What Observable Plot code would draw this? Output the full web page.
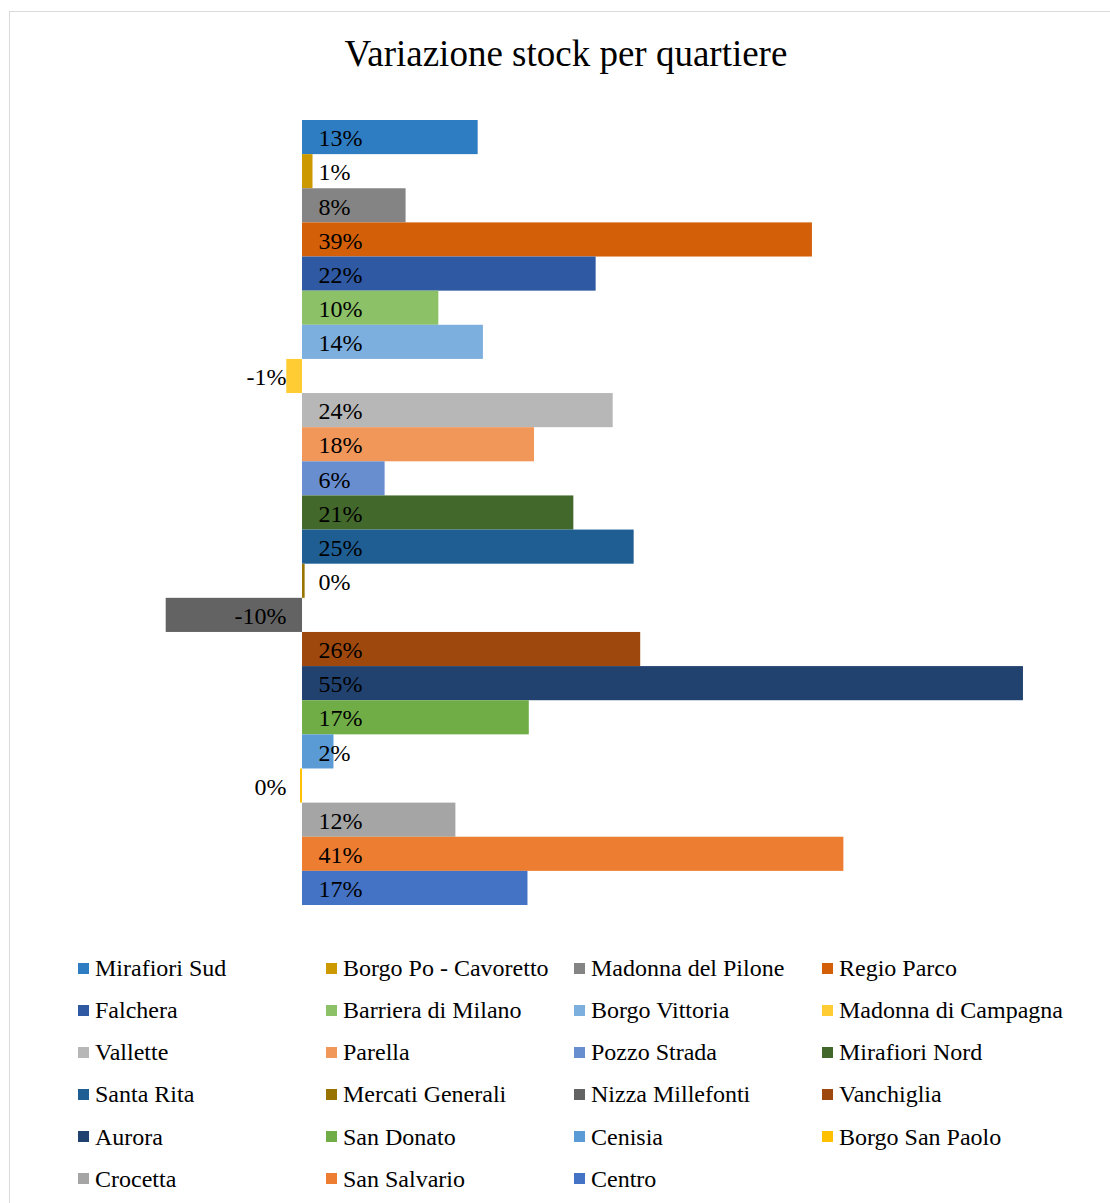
<!DOCTYPE html>
<html>
<head>
<meta charset="utf-8">
<script src="https://cdn.jsdelivr.net/npm/d3@7"></script>
<script src="https://cdn.jsdelivr.net/npm/@observablehq/plot@0.6"></script>
<style>
  html, body { margin: 0; padding: 0; overflow: hidden; background: #fff; }
  body { width: 1110px; height: 1203px; position: relative; font-family: "Liberation Serif", "Times New Roman", serif; }
  #frame { position: absolute; left: 9px; top: 11px; width: 1200px; height: 1300px; border: 1px solid #d9d9d9; box-sizing: border-box; }
  #title { position: absolute; left: 0; width: 1132px; top: 35px; text-align: center; font-size: 37px; line-height: 37px; color: #000; white-space: nowrap; }
  #chart { position: absolute; left: 0; top: 100px; }
  #legend { position: absolute; left: 78px; top: 956px; display: grid; grid-template-columns: repeat(4, 248px); grid-auto-rows: 42.13px; }
  .item { display: flex; align-items: flex-start; height: 24px; font-size: 24px; line-height: 24px; color: #000; white-space: nowrap; }
  .sw { width: 11px; height: 11px; margin-top: 6.5px; margin-right: 6px; flex: none; }
</style>
</head>
<body>
<div id="frame"></div>
<div id="title">Variazione stock per quartiere</div>
<div id="chart"></div>
<div id="legend"></div>
<script>
const quartieri = [
  "Mirafiori Sud", "Borgo Po - Cavoretto", "Madonna del Pilone", "Regio Parco",
  "Falchera", "Barriera di Milano", "Borgo Vittoria", "Madonna di Campagna",
  "Vallette", "Parella", "Pozzo Strada", "Mirafiori Nord",
  "Santa Rita", "Mercati Generali", "Nizza Millefonti", "Vanchiglia",
  "Aurora", "San Donato", "Cenisia", "Borgo San Paolo",
  "Crocetta", "San Salvario", "Centro"
];
const variazioni = [
  13.4, 0.8, 7.9, 38.9,
  22.4, 10.4, 13.8, -1.2,
  23.7, 17.7, 6.3, 20.7,
  25.3, 0.2, -10.4, 25.8,
  55.0, 17.3, 2.4, -0.15,
  11.7, 41.3, 17.2
];
const colori = [
  "#2E7DC2", "#CC9A00", "#848484", "#D35F08",
  "#2F59A3", "#8CC168", "#7CAFDD", "#FFCD33",
  "#B7B7B7", "#F1975A", "#698ED0", "#43682B",
  "#1F5E92", "#997300", "#636363", "#9E480E",
  "#21426F", "#70AD47", "#5B9BD5", "#FFC000",
  "#A5A5A5", "#ED7D31", "#4472C4"
];

const data = quartieri.map((name, i) => ({name, value: variazioni[i]}));
const fmt = v => `${Math.round(v)}%`;
const font = '"Liberation Serif", "Times New Roman", serif';

const chart = Plot.plot({
  width: 1110,
  height: 815,
  marginLeft: 0, marginRight: 0, marginTop: 20, marginBottom: 10,
  style: {fontFamily: font, background: "transparent", overflow: "visible"},
  x: {domain: [-15, 60], range: [105.4, 1088.5], axis: null},
  y: {domain: quartieri, range: [20, 805], padding: 0, round: false, axis: null},
  color: {domain: quartieri, range: colori},
  marks: [
    Plot.barX(data, {x: "value", y: "name", fill: "name"}),
    Plot.text(data.filter(d => d.value >= 0), {
      x: 0, y: "name", text: d => fmt(d.value), textAnchor: "start", dx: 16, dy: 1,
      fontSize: 24, fill: "#000"
    }),
    Plot.text(data.filter(d => d.value < 0), {
      x: 0, y: "name", text: d => fmt(d.value), textAnchor: "end", dx: -16, dy: 1,
      fontSize: 24, fill: "#000"
    })
  ]
});
document.getElementById("chart").appendChild(chart);

const legend = document.getElementById("legend");
quartieri.forEach((name, i) => {
  const item = document.createElement("div");
  item.className = "item";
  const sw = document.createElement("span");
  sw.className = "sw";
  sw.style.background = colori[i];
  const label = document.createElement("span");
  label.textContent = name;
  item.appendChild(sw);
  item.appendChild(label);
  legend.appendChild(item);
});
</script>
</body>
</html>
